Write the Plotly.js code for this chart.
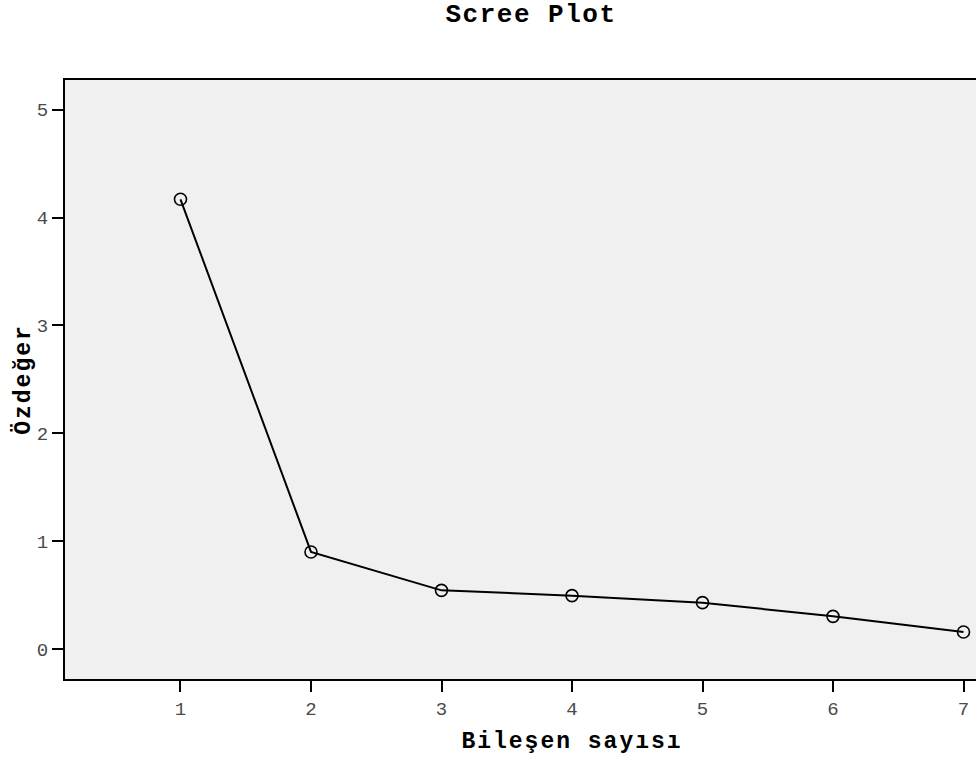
<!DOCTYPE html>
<html>
<head>
<meta charset="utf-8">
<script src="https://cdn.plot.ly/plotly-3.0.1.min.js"></script>
<style>
html, body { margin: 0; padding: 0; overflow: hidden; background: #ffffff; }
#chart { width: 1085px; height: 762px; }
</style>
</head>
<body>
<div id="chart"></div>
<script>
// Data
const components = [1, 2, 3, 4, 5, 6, 7];
const eigenvalues = [4.17, 0.90, 0.544, 0.495, 0.430, 0.303, 0.158];
const xTickValues = [1, 2, 3, 4, 5, 6, 7];
const yTickValues = [0, 1, 2, 3, 4, 5];
const chartTitle = "Scree Plot";
const xTitle = "Bileşen sayısı";
const yTitle = "Özdeğer";

const monoFont = '"Courier New", "Liberation Mono", monospace';

const trace = {
  x: components,
  y: eigenvalues,
  type: "scatter",
  mode: "lines+markers",
  line: { color: "#000000", width: 2 },
  marker: {
    symbol: "circle-open",
    size: 12,
    color: "#000000",
    line: { color: "#000000", width: 1.6 }
  },
  hoverinfo: "x+y",
  showlegend: false
};

const layout = {
  width: 1085,
  height: 762,
  margin: { l: 65, r: 6, t: 80, b: 83 },
  paper_bgcolor: "#ffffff",
  plot_bgcolor: "#f0f0f0",
  title: {
    text: "<b>" + chartTitle + "</b>",
    font: { family: monoFont, size: 26, color: "#000000" },
    xref: "container",
    yref: "container",
    x: 531 / 1085,
    xanchor: "center",
    y: 1 - 13 / 762,
    yanchor: "middle"
  },
  xaxis: {
    range: [0.115, 7.885],
    tickvals: xTickValues,
    ticktext: xTickValues.map(String),
    ticks: "outside",
    ticklen: 11,
    tickwidth: 2,
    tickcolor: "#000000",
    showline: true,
    linecolor: "#000000",
    linewidth: 2,
    mirror: true,
    showgrid: false,
    zeroline: false,
    tickfont: { family: monoFont, size: 19, color: "#4a4a4a" },
    title: {
      text: "<b>" + xTitle + "</b>",
      font: { family: monoFont, size: 23, color: "#000000" },
      standoff: 12
    },
    automargin: false
  },
  yaxis: {
    range: [-0.278, 5.276],
    tickvals: yTickValues,
    ticktext: yTickValues.map(String),
    ticks: "outside",
    ticklen: 11,
    tickwidth: 2,
    tickcolor: "#000000",
    showline: true,
    linecolor: "#000000",
    linewidth: 2,
    mirror: true,
    showgrid: false,
    zeroline: false,
    tickfont: { family: monoFont, size: 19, color: "#4a4a4a" },
    title: {
      text: "<b>" + yTitle + "</b>",
      font: { family: monoFont, size: 23, color: "#000000" },
      standoff: 0
    },
    automargin: false
  }
};

Plotly.newPlot("chart", [trace], layout, { displayModeBar: false, staticPlot: true }).then(function () {
  const g = document.querySelector(".gtitle");
  if (g) g.style.letterSpacing = "1.5px";
  const xt = document.querySelector(".xtitle");
  if (xt) xt.style.letterSpacing = "2px";
  const yt = document.querySelector(".ytitle");
  if (yt) yt.style.letterSpacing = "2px";
});
</script>
</body>
</html>
